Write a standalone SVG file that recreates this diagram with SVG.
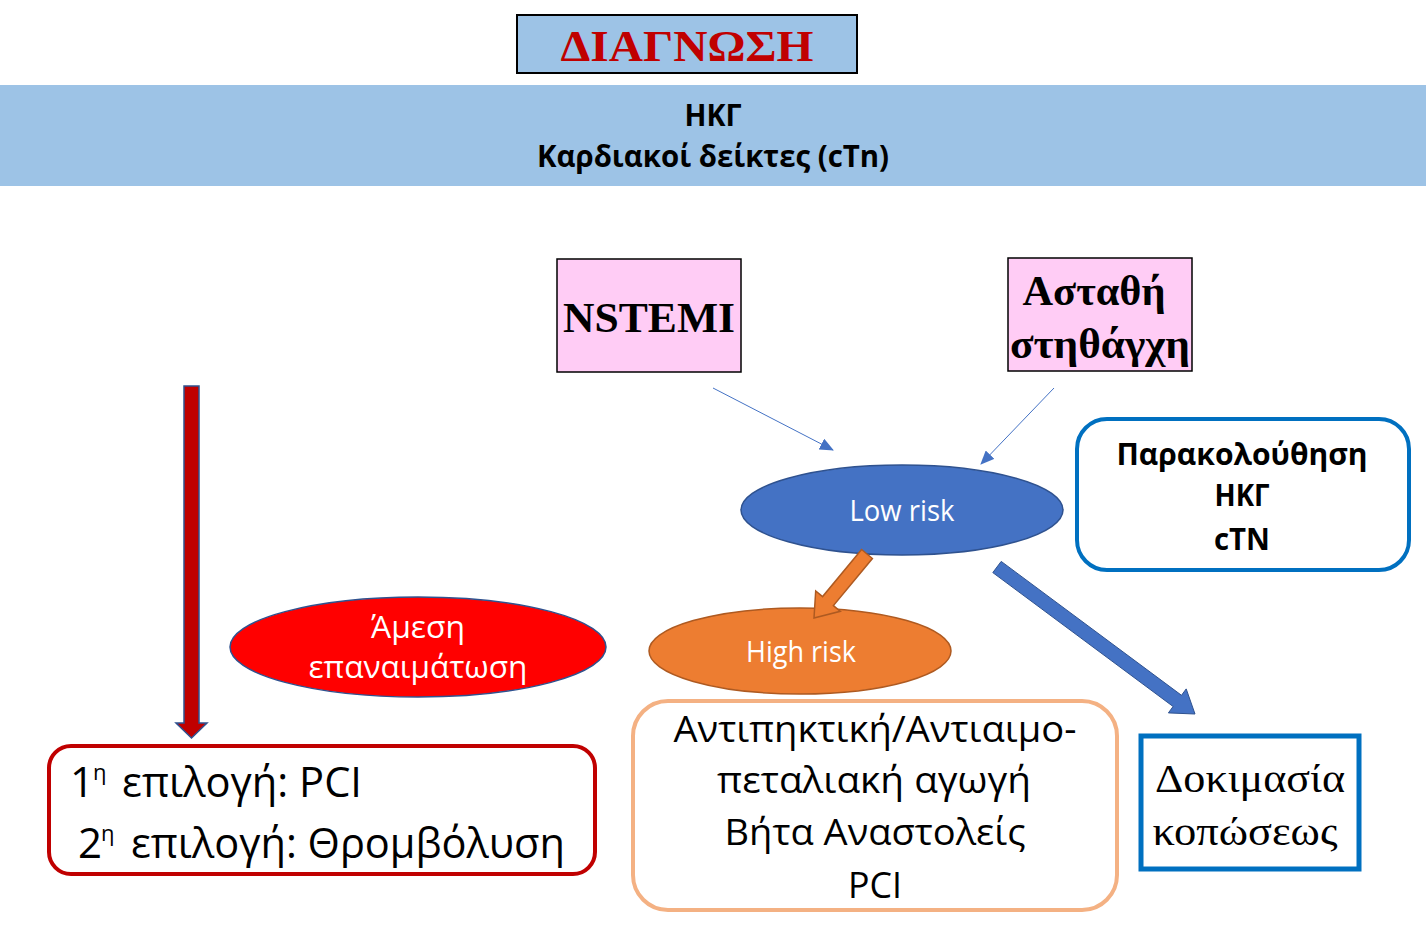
<svg xmlns="http://www.w3.org/2000/svg" width="1426" height="940" viewBox="0 0 1426 940">
<defs>
<style>
.sans{font-family:"Open Sans","Noto Sans","DejaVu Sans",sans-serif;}
.serif{font-family:"Liberation Serif","DejaVu Serif",serif;}
.b{font-weight:bold;}
.w{fill:#ffffff;}
.k{fill:#000000;}
.pink{fill:#FFCCF5;stroke:#000;stroke-width:1.5;}
.thin{stroke:#4472C4;stroke-width:1;fill:none;}
</style>
<marker id="ah" markerUnits="userSpaceOnUse" markerWidth="14" markerHeight="12" viewBox="0 0 14 12" refX="13" refY="6" orient="auto">
<path d="M0,0 L14,6 L0,12 Z" fill="#4472C4"/>
</marker>
</defs>
<rect width="1426" height="940" fill="#ffffff"/>

<g id="title">
<rect x="517" y="15" width="340" height="58" fill="#9DC3E6" stroke="#000" stroke-width="2"/>
<text x="687" y="61" text-anchor="middle" class="serif b" font-size="44" fill="#C00000" textLength="253" lengthAdjust="spacingAndGlyphs">ΔΙΑΓΝΩΣΗ</text>
</g>

<g id="band">
<rect x="0" y="85" width="1426" height="101" fill="#9DC3E6"/>
<text x="713" y="126" text-anchor="middle" class="sans b k" font-size="31" textLength="57" lengthAdjust="spacingAndGlyphs">ΗΚΓ</text>
<text x="713" y="167" text-anchor="middle" class="sans b k" font-size="31" textLength="352" lengthAdjust="spacingAndGlyphs">Καρδιακοί δείκτες (cTn)</text>
</g>

<g id="nstemi">
<rect x="557" y="259" width="184" height="113" class="pink"/>
<text x="649" y="332" text-anchor="middle" class="serif b k" font-size="43" textLength="172" lengthAdjust="spacingAndGlyphs">NSTEMI</text>
</g>

<g id="unstable">
<rect x="1008" y="258" width="184" height="113" class="pink"/>
<text x="1094" y="305" text-anchor="middle" class="serif b k" font-size="43" textLength="143" lengthAdjust="spacingAndGlyphs">Ασταθή</text>
<text x="1100" y="358" text-anchor="middle" class="serif b k" font-size="43" textLength="180" lengthAdjust="spacingAndGlyphs">στηθάγχη</text>
</g>

<g id="lowrisk">
<ellipse cx="902" cy="510" rx="161" ry="45" fill="#4472C4" stroke="#2F528F" stroke-width="1.5"/>
<text x="902" y="521" text-anchor="middle" class="sans w" font-size="29" textLength="105" lengthAdjust="spacingAndGlyphs">Low risk</text>
</g>

<g id="monitor">
<rect x="1077" y="419" width="332" height="151" rx="30" fill="#ffffff" stroke="#0070C0" stroke-width="4"/>
<text x="1242" y="465" text-anchor="middle" class="sans b k" font-size="31" textLength="251" lengthAdjust="spacingAndGlyphs">Παρακολούθηση</text>
<text x="1242" y="506" text-anchor="middle" class="sans b k" font-size="31" textLength="55" lengthAdjust="spacingAndGlyphs">ΗΚΓ</text>
<text x="1242" y="550" text-anchor="middle" class="sans b k" font-size="31" textLength="56" lengthAdjust="spacingAndGlyphs">cTN</text>
</g>

<g id="highrisk">
<ellipse cx="800" cy="651" rx="151" ry="43" fill="#ED7D31" stroke="#AE5A21" stroke-width="1.5"/>
<text x="801" y="662" text-anchor="middle" class="sans w" font-size="29" textLength="110" lengthAdjust="spacingAndGlyphs">High risk</text>
</g>

<g id="treatment">
<rect x="633" y="701" width="484" height="209" rx="35" fill="#ffffff" stroke="#F4B183" stroke-width="4"/>
<text x="875" y="742" text-anchor="middle" class="sans k" font-size="37" textLength="403" lengthAdjust="spacingAndGlyphs">Αντιπηκτική/Αντιαιμο-</text>
<text x="874" y="793" text-anchor="middle" class="sans k" font-size="37" textLength="314" lengthAdjust="spacingAndGlyphs">πεταλιακή αγωγή</text>
<text x="875" y="845" text-anchor="middle" class="sans k" font-size="37" textLength="301" lengthAdjust="spacingAndGlyphs">Βήτα Αναστολείς</text>
<text x="875" y="898" text-anchor="middle" class="sans k" font-size="37" textLength="54" lengthAdjust="spacingAndGlyphs">PCI</text>
</g>

<g id="stress">
<rect x="1141" y="736" width="218" height="133" fill="#ffffff" stroke="#0070C0" stroke-width="5"/>
<text x="1250" y="792" text-anchor="middle" class="serif k" font-size="40" textLength="190" lengthAdjust="spacingAndGlyphs">Δοκιμασία</text>
<text x="1245" y="845" text-anchor="middle" class="serif k" font-size="40" textLength="185" lengthAdjust="spacingAndGlyphs">κοπώσεως</text>
</g>

<g id="reperfusion">
<ellipse cx="418" cy="647" rx="188" ry="50" fill="#FF0000" stroke="#2F528F" stroke-width="1.5"/>
<text x="418" y="638" text-anchor="middle" class="sans w" font-size="31" textLength="94" lengthAdjust="spacingAndGlyphs">Άμεση</text>
<text x="418" y="678" text-anchor="middle" class="sans w" font-size="31" textLength="219" lengthAdjust="spacingAndGlyphs">επαναιμάτωση</text>
</g>

<g id="options">
<rect x="49" y="746" width="546" height="128" rx="22" fill="#ffffff" stroke="#C00000" stroke-width="4"/>
<text y="797" class="sans k" font-size="42"><tspan x="70">1</tspan><tspan x="93" y="780" font-size="22">η</tspan><tspan x="122" y="797" textLength="240" lengthAdjust="spacingAndGlyphs">επιλογή: PCI</tspan></text>
<text y="858" class="sans k" font-size="42"><tspan x="78">2</tspan><tspan x="101" y="841" font-size="22">η</tspan><tspan x="131" y="858" textLength="434" lengthAdjust="spacingAndGlyphs">επιλογή: Θρομβόλυση</tspan></text>
</g>

<g id="connectors">
<line x1="713" y1="388" x2="833" y2="450" class="thin" marker-end="url(#ah)"/>
<line x1="1054" y1="388" x2="981" y2="464" class="thin" marker-end="url(#ah)"/>
<polygon points="861.6,549.5 822.6,596.6 815.7,590.9 814,618 840.3,611.3 833.4,605.6 872.4,558.5" fill="#ED7D31" stroke="#AE5A21" stroke-width="1.5"/>
<polygon points="1001.2,561.4 1181.5,695.3 1186.2,688.9 1195,714 1168.4,712.9 1173.1,706.5 992.8,572.6" fill="#4472C4" stroke="#2F528F" stroke-width="1"/>
<polygon points="184,386 199,386 199,723 207,723 191.5,738 176,723 184,723" fill="#C00000" stroke="#2F528F" stroke-width="1.5"/>
</g>
</svg>
